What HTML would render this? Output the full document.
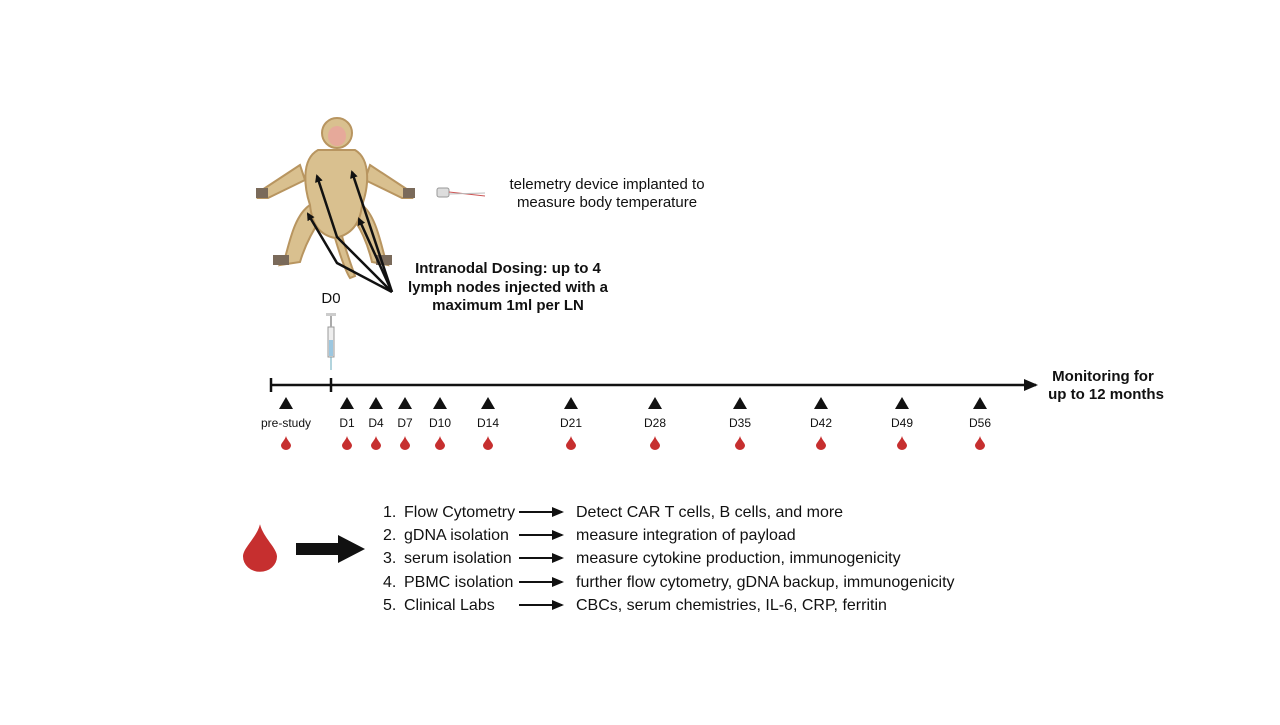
<!DOCTYPE html>
<html><head><style>
body{margin:0;background:#fff;}
svg text{font-family:"Liberation Sans",sans-serif;}
</style></head><body>
<svg width="1280" height="720" viewBox="0 0 1280 720" xmlns="http://www.w3.org/2000/svg">
<defs>
<marker id="ah" markerWidth="8" markerHeight="8" refX="6" refY="4" orient="auto" markerUnits="userSpaceOnUse">
<path d="M0,0 L8,4 L0,8 z" fill="#111"/></marker>
<marker id="ah3" markerWidth="12" markerHeight="10" refX="10" refY="5" orient="auto" markerUnits="userSpaceOnUse">
<path d="M0,0 L12,5 L0,10 z" fill="#111"/></marker>
<marker id="ah2" markerWidth="14" markerHeight="14" refX="12" refY="7" orient="auto" markerUnits="userSpaceOnUse">
<path d="M0,1 L14,7 L0,13 z" fill="#111"/></marker>
<symbol id="drop" viewBox="0 0 10 14"><path d="M5,0 C6,4 10,7 10,9.5 A5,4.5 0 0 1 0,9.5 C0,7 4,4 5,0z" fill="#c62f2f"/></symbol>
</defs>
<!-- monkey -->
<g fill="#d9c08f" stroke="#b89560" stroke-width="2">
<path d="M300,165 L262,190 L258,198 L268,198 L305,180 Z"/>
<path d="M370,165 L408,190 L412,198 L402,198 L365,180 Z"/>
<path d="M310,205 C295,215 290,240 285,258 L280,265 L300,262 C305,245 315,225 325,215Z"/>
<path d="M362,205 C375,215 380,240 385,258 L388,265 L372,262 C368,245 360,225 350,215Z"/>
<path d="M318,150 C300,160 305,190 310,205 C312,225 320,235 335,238 C350,235 360,225 362,205 C368,190 372,160 355,150 Z"/>
<path d="M335,238 C340,255 345,270 350,278 L355,276 C350,262 345,248 342,236Z"/>
<ellipse cx="337" cy="133" rx="15" ry="15"/>
</g>
<ellipse cx="337" cy="136" rx="9" ry="10" fill="#e6a99a"/>
<rect x="256" y="188" width="12" height="10" fill="#7a6a5a"/>
<rect x="403" y="188" width="12" height="10" fill="#7a6a5a"/>
<rect x="273" y="255" width="16" height="10" fill="#7a6a5a"/>
<rect x="376" y="255" width="16" height="10" fill="#7a6a5a"/>
<!-- injection arrows -->
<g stroke="#111" stroke-width="2.5" fill="none">
<path d="M392,292 L337,237 L317,176" marker-end="url(#ah)"/>
<path d="M392,292 L352,172" marker-end="url(#ah)"/>
<path d="M392,292 L337,263 L308,214" marker-end="url(#ah)"/>
<path d="M392,292 L359,219" marker-end="url(#ah)"/>
</g>
<!-- telemetry -->
<rect x="437" y="188" width="12" height="9" rx="2" fill="#ddd" stroke="#999"/>
<path d="M449,192 L485,196" stroke="#c55" stroke-width="1"/>
<path d="M449,194 L485,193" stroke="#bbb" stroke-width="1"/>
<text x="607" y="189" font-size="15" text-anchor="middle" fill="#111">telemetry device implanted to</text>
<text x="607" y="207" font-size="15" text-anchor="middle" fill="#111">measure body temperature</text>
<g font-size="15" font-weight="bold" text-anchor="middle" fill="#111">
<text x="508" y="273">Intranodal Dosing: up to 4</text>
<text x="508" y="292">lymph nodes injected with a</text>
<text x="508" y="310">maximum 1ml per LN</text>
</g>
<text x="331" y="303" font-size="15" text-anchor="middle" fill="#111">D0</text>
<!-- syringe -->
<rect x="328" y="327" width="6" height="30" fill="#eee" stroke="#999"/>
<rect x="329" y="340" width="4" height="16" fill="#9cc7e0"/>
<rect x="326" y="313" width="10" height="3" fill="#ccc"/>
<line x1="331" y1="316" x2="331" y2="327" stroke="#aaa" stroke-width="2"/>
<line x1="331" y1="357" x2="331" y2="370" stroke="#6ab" stroke-width="1"/>
<!-- timeline -->
<line x1="271" y1="385" x2="1036" y2="385" stroke="#111" stroke-width="2.5" marker-end="url(#ah2)"/>
<line x1="271" y1="378" x2="271" y2="392" stroke="#111" stroke-width="2.5"/>
<line x1="331" y1="378" x2="331" y2="392" stroke="#111" stroke-width="2.5"/>
<g font-size="15" font-weight="bold" fill="#111" text-anchor="middle">
<text x="1103" y="381">Monitoring for</text>
<text x="1106" y="399">up to 12 months</text>
</g>
<g font-size="12" text-anchor="middle" fill="#111">
<g transform="translate(286,0)"><path d="M-7,409 L0,397 L7,409z" fill="#111"/><text y="427">pre-study</text><use href="#drop" x="-5" y="436" width="10" height="14"/></g>
<g transform="translate(347,0)"><path d="M-7,409 L0,397 L7,409z" fill="#111"/><text y="427">D1</text><use href="#drop" x="-5" y="436" width="10" height="14"/></g>
<g transform="translate(376,0)"><path d="M-7,409 L0,397 L7,409z" fill="#111"/><text y="427">D4</text><use href="#drop" x="-5" y="436" width="10" height="14"/></g>
<g transform="translate(405,0)"><path d="M-7,409 L0,397 L7,409z" fill="#111"/><text y="427">D7</text><use href="#drop" x="-5" y="436" width="10" height="14"/></g>
<g transform="translate(440,0)"><path d="M-7,409 L0,397 L7,409z" fill="#111"/><text y="427">D10</text><use href="#drop" x="-5" y="436" width="10" height="14"/></g>
<g transform="translate(488,0)"><path d="M-7,409 L0,397 L7,409z" fill="#111"/><text y="427">D14</text><use href="#drop" x="-5" y="436" width="10" height="14"/></g>
<g transform="translate(571,0)"><path d="M-7,409 L0,397 L7,409z" fill="#111"/><text y="427">D21</text><use href="#drop" x="-5" y="436" width="10" height="14"/></g>
<g transform="translate(655,0)"><path d="M-7,409 L0,397 L7,409z" fill="#111"/><text y="427">D28</text><use href="#drop" x="-5" y="436" width="10" height="14"/></g>
<g transform="translate(740,0)"><path d="M-7,409 L0,397 L7,409z" fill="#111"/><text y="427">D35</text><use href="#drop" x="-5" y="436" width="10" height="14"/></g>
<g transform="translate(821,0)"><path d="M-7,409 L0,397 L7,409z" fill="#111"/><text y="427">D42</text><use href="#drop" x="-5" y="436" width="10" height="14"/></g>
<g transform="translate(902,0)"><path d="M-7,409 L0,397 L7,409z" fill="#111"/><text y="427">D49</text><use href="#drop" x="-5" y="436" width="10" height="14"/></g>
<g transform="translate(980,0)"><path d="M-7,409 L0,397 L7,409z" fill="#111"/><text y="427">D56</text><use href="#drop" x="-5" y="436" width="10" height="14"/></g>
</g>
<!-- bottom -->
<use href="#drop" x="243" y="520" width="34" height="56"/>
<path d="M296,543 L338,543 L338,535 L365,549 L338,563 L338,555 L296,555 Z" fill="#111"/>
<g font-size="16" fill="#111">
<text x="383" y="517">1.</text><text x="404" y="517">Flow Cytometry</text>
<text x="383" y="540">2.</text><text x="404" y="540">gDNA isolation</text>
<text x="383" y="563">3.</text><text x="404" y="563">serum isolation</text>
<text x="383" y="587">4.</text><text x="404" y="587">PBMC isolation</text>
<text x="383" y="610">5.</text><text x="404" y="610">Clinical Labs</text>
<text x="576" y="517">Detect CAR T cells, B cells, and more</text>
<text x="576" y="540">measure integration of payload</text>
<text x="576" y="563">measure cytokine production, immunogenicity</text>
<text x="576" y="587">further flow cytometry, gDNA backup, immunogenicity</text>
<text x="576" y="610">CBCs, serum chemistries, IL-6, CRP, ferritin</text>
</g>
<g stroke="#111" stroke-width="2">
<line x1="519" y1="512" x2="562" y2="512" marker-end="url(#ah3)"/>
<line x1="519" y1="535" x2="562" y2="535" marker-end="url(#ah3)"/>
<line x1="519" y1="558" x2="562" y2="558" marker-end="url(#ah3)"/>
<line x1="519" y1="582" x2="562" y2="582" marker-end="url(#ah3)"/>
<line x1="519" y1="605" x2="562" y2="605" marker-end="url(#ah3)"/>
</g>
</svg>
</body></html>
